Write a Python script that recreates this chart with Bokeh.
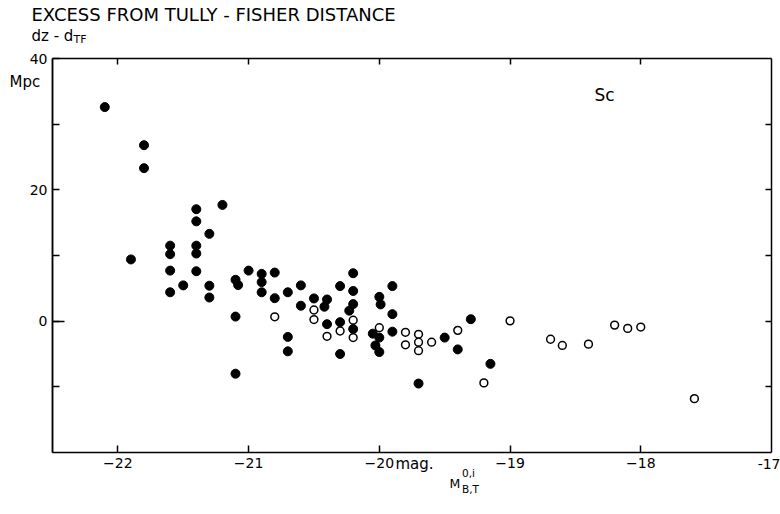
from bokeh.plotting import figure
from bokeh.models import Range1d, FixedTicker, Label, LinearAxis
from bokeh.embed import file_html
from bokeh.resources import INLINE

# ---- data ----
filled_mag = [-22.10, -21.80, -21.80, -21.40, -21.20, -21.40, -21.30, -21.60, -21.60, -21.40,
              -21.40, -21.90, -21.60, -21.40, -21.00, -21.10, -21.08, -21.60, -21.50, -21.30,
              -21.30, -20.90, -20.90, -20.90, -20.80, -20.80, -21.10, -21.10, -20.70, -20.70,
              -20.70, -20.60, -20.60, -20.50, -20.42, -20.40, -20.40, -20.30, -20.30, -20.30,
              -20.20, -20.20, -20.20, -20.23, -20.20, -20.00, -19.99, -20.05, -20.00, -20.03,
              -20.00, -19.90, -19.90, -19.90, -19.70, -19.50, -19.40, -19.30, -19.15]
filled_exc = [32.6, 26.8, 23.3, 17.05, 17.7, 15.2, 13.3, 11.5, 10.2, 11.5,
              10.3, 9.4, 7.7, 7.6, 7.7, 6.3, 5.5, 4.4, 5.45, 5.4,
              3.6, 7.2, 5.95, 4.4, 7.4, 3.5, 0.7, -8.0, 4.4, -2.4,
              -4.6, 5.45, 2.35, 3.46, 2.2, 3.3, -0.46, 5.34, -0.15, -5.0,
              7.3, 4.6, 2.6, 1.6, -1.2, 3.7, 2.55, -1.9, -2.5, -3.7,
              -4.7, 5.34, 1.07, -1.6, -9.5, -2.5, -4.3, 0.3, -6.5]
open_mag = [-20.80, -20.50, -20.50, -20.40, -20.30, -20.20, -20.20, -20.00, -19.80, -19.80,
            -19.70, -19.70, -19.70, -19.60, -19.40, -19.20, -19.00, -18.69, -18.60, -18.40,
            -18.20, -18.10, -18.00, -17.59]
open_exc = [0.66, 1.7, 0.25, -2.3, -1.5, 0.15, -2.5, -1.0, -1.7, -3.6,
            -2.0, -3.2, -4.5, -3.2, -1.4, -9.4, 0.05, -2.75, -3.7, -3.5,
            -0.6, -1.1, -0.9, -11.8]

x_ticks = [-22, -21, -20, -19, -18]
x_last_label = "-17"
y_labeled_ticks = [0, 20, 40]
y_minor_ticks = [-10, 10, 30]
right_ticks = [-10, 0, 10, 20, 30]

X0, X1, Y0, Y1 = -22.5, -17.0, -20.0, 40.0
FONT = "DejaVu Sans"

# chart box in page pixels; the canvas is the whole page
W, H = 780, 514
FL, FR, FT, FB = 52.0, 771.0, 58.0, 452.0
kx = (X1 - X0) / (FR - FL)
ky = (Y1 - Y0) / (FB - FT)

def dx(px):
    return X0 + (px - FL) * kx
def dy(py):
    return Y1 - (py - FT) * ky

p = figure(width=W, height=H, output_backend="svg", toolbar_location=None, title=None,
           x_range=Range1d(dx(0), dx(W)), y_range=Range1d(dy(H), dy(0)),
           min_border_left=0, min_border_right=0, min_border_top=0, min_border_bottom=0)
p.grid.visible = False
p.outline_line_color = None

def style(ax, tick_len=7):
    ax.axis_line_color = "black"
    ax.axis_line_width = 1.5
    ax.major_tick_line_color = "black"
    ax.major_tick_line_width = 1.5
    ax.major_tick_in = tick_len
    ax.major_tick_out = 0
    ax.minor_tick_line_color = "black"
    ax.minor_tick_line_width = 1.5
    ax.minor_tick_in = tick_len
    ax.minor_tick_out = 0
    ax.major_label_text_font = FONT
    ax.major_label_text_font_size = "14px"
    ax.major_label_text_color = "black"

xa = p.xaxis[0]
style(xa)
xa.fixed_location = Y0
xa.bounds = (X0, X1)
xa.ticker = FixedTicker(ticks=x_ticks, minor_ticks=[])
xa.major_label_standoff = 5

ya = p.yaxis[0]
style(ya)
ya.fixed_location = X0
ya.bounds = (Y0, Y1)
ya.ticker = FixedTicker(ticks=y_labeled_ticks, minor_ticks=y_minor_ticks)
ya.major_label_standoff = 5

# longer tick at zero on the left axis
y0 = LinearAxis(fixed_location=X0, bounds=(Y0, Y1), axis_line_color=None,
                ticker=FixedTicker(ticks=[], minor_ticks=[0]))
style(y0, 12)
p.add_layout(y0, "left")

top = LinearAxis(fixed_location=Y1, bounds=(X0, X1), ticker=FixedTicker(ticks=[], minor_ticks=x_ticks))
style(top, 6)
p.add_layout(top, "above")
right = LinearAxis(fixed_location=X1, bounds=(Y0, Y1), ticker=FixedTicker(ticks=[], minor_ticks=right_ticks))
style(right, 6)
p.add_layout(right, "right")

p.scatter(filled_mag, filled_exc, marker="circle", size=9, fill_color="black", line_color="black")
p.scatter(open_mag, open_exc, marker="circle", size=7.8, fill_color="white", line_color="black",
          line_width=1.5)

SHIFT = 6  # Bokeh draws alphabetic-baseline labels a bit low

def lab(text, px, py, size, align="left"):
    p.add_layout(Label(x=dx(px), y=dy(py - SHIFT), text=text, text_font=FONT, text_font_size=size,
                       text_align=align, text_baseline="alphabetic", text_color="black"))

lab("EXCESS FROM TULLY - FISHER DISTANCE", 31, 20, "18px")
lab("dz - d", 31, 41.5, "15px")
lab("TF", 73, 45, "11px")
lab("Mpc", 9, 87, "15px")
lab("Sc", 594, 100, "17px")
lab(x_last_label, 780, 469, "14px", align="right")
lab("mag.", 395, 469, "15px")
lab("M", 449, 489, "12.5px")
lab("0,i", 461.5, 478, "10.5px")
lab("B,T", 461.5, 494, "10.5px")

open("out.html", "w").write(file_html(p, INLINE))
